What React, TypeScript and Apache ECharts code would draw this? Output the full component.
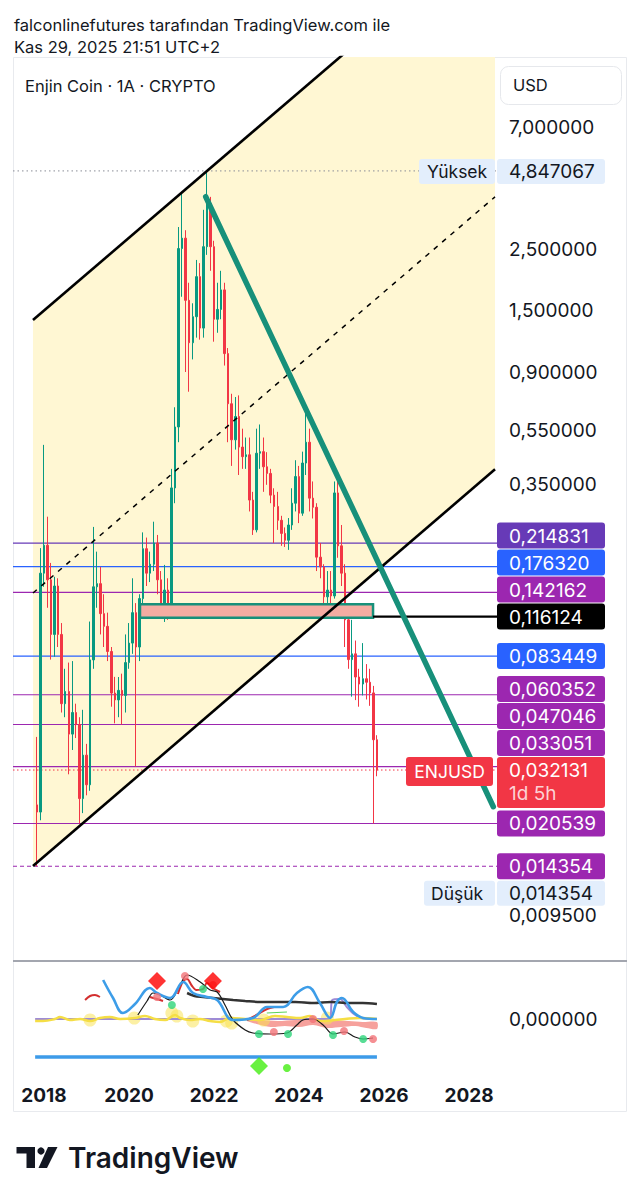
import React, { useEffect, useRef } from "react";
import * as echarts from "echarts";

// ---------------- data ----------------
// month index counted from Jan 2016 (24 = Jan 2018)
const FIRST_MONTH = 22; // Nov 2017
// monthly candles [open, close, low, high]
const CANDLES: number[][] = [
  [0.024, 0.0226, 0.014354, 0.0424],
  [0.0226, 0.167, 0.0211, 0.206],
  // 2018
  [0.167, 0.211, 0.149, 0.489],
  [0.211, 0.158, 0.125, 0.268],
  [0.158, 0.1, 0.081, 0.182],
  [0.1, 0.15, 0.083, 0.162],
  [0.15, 0.1, 0.09, 0.16],
  [0.1, 0.056, 0.052, 0.11],
  [0.056, 0.062, 0.05, 0.075],
  [0.062, 0.0434, 0.031, 0.079],
  [0.0434, 0.052, 0.038, 0.08],
  [0.052, 0.047, 0.042, 0.056],
  [0.047, 0.0253, 0.020539, 0.05],
  [0.0253, 0.0364, 0.0224, 0.0532],
  // 2019
  [0.0364, 0.0284, 0.026, 0.04],
  [0.0284, 0.0808, 0.027, 0.1114],
  [0.0808, 0.149, 0.075, 0.246],
  [0.149, 0.153, 0.125, 0.2],
  [0.153, 0.119, 0.1, 0.176],
  [0.119, 0.107, 0.09, 0.14],
  [0.107, 0.0867, 0.08, 0.12],
  [0.0867, 0.0612, 0.0546, 0.09],
  [0.0612, 0.0578, 0.0475, 0.0701],
  [0.0578, 0.0626, 0.05, 0.07],
  [0.0626, 0.06, 0.047, 0.072],
  [0.06, 0.079, 0.052, 0.1],
  // 2020
  [0.079, 0.093, 0.075, 0.11],
  [0.093, 0.12, 0.085, 0.16],
  [0.12, 0.09, 0.0331, 0.13],
  [0.09, 0.135, 0.08, 0.14],
  [0.135, 0.205, 0.13, 0.235],
  [0.205, 0.167, 0.15, 0.225],
  [0.167, 0.18, 0.155, 0.2],
  [0.18, 0.215, 0.17, 0.257],
  [0.215, 0.158, 0.14, 0.23],
  [0.158, 0.128, 0.12, 0.17],
  [0.128, 0.145, 0.111, 0.179],
  [0.145, 0.126, 0.113, 0.16],
  // 2021
  [0.126, 0.341, 0.115, 0.4],
  [0.341, 0.568, 0.3, 0.67],
  [0.568, 2.53, 0.5, 3.03],
  [2.53, 2.76, 1.69, 4.02],
  [2.76, 1.64, 0.9, 2.95],
  [1.64, 1.15, 0.763, 1.9],
  [1.15, 1.43, 1.0, 1.6],
  [1.43, 2.0, 1.2, 2.3],
  [2.0, 1.3, 1.18, 2.24],
  [1.3, 2.57, 1.2, 3.5],
  [2.57, 3.69, 2.4, 4.847067],
  [3.69, 2.57, 2.1, 3.9],
  // 2022
  [2.57, 1.4, 1.16, 2.7],
  [1.4, 1.52, 1.25, 1.9],
  [1.52, 1.79, 1.4, 2.1],
  [1.79, 1.05, 0.95, 1.9],
  [1.05, 0.69, 0.5, 1.1],
  [0.69, 0.51, 0.41, 0.75],
  [0.51, 0.62, 0.47, 0.73],
  [0.62, 0.48, 0.38, 0.74],
  [0.48, 0.443, 0.4, 0.56],
  [0.443, 0.45, 0.4, 0.52],
  [0.45, 0.308, 0.28, 0.52],
  [0.308, 0.24, 0.23, 0.33],
  // 2023
  [0.24, 0.456, 0.235, 0.56],
  [0.456, 0.462, 0.4, 0.58],
  [0.462, 0.407, 0.33, 0.52],
  [0.407, 0.385, 0.35, 0.46],
  [0.385, 0.321, 0.3, 0.4],
  [0.321, 0.292, 0.215, 0.34],
  [0.292, 0.26, 0.24, 0.33],
  [0.26, 0.233, 0.21, 0.27],
  [0.233, 0.22, 0.208, 0.245],
  [0.22, 0.25, 0.203, 0.265],
  [0.25, 0.3, 0.24, 0.34],
  [0.3, 0.375, 0.28, 0.43],
  // 2024
  [0.375, 0.276, 0.254, 0.41],
  [0.276, 0.42, 0.27, 0.462],
  [0.42, 0.5, 0.38, 0.655],
  [0.5, 0.313, 0.28, 0.56],
  [0.313, 0.29, 0.264, 0.36],
  [0.29, 0.191, 0.17, 0.3],
  [0.191, 0.176, 0.16, 0.215],
  [0.176, 0.137, 0.12, 0.18],
  [0.137, 0.145, 0.125, 0.17],
  [0.145, 0.138, 0.125, 0.17],
  [0.138, 0.327, 0.135, 0.36],
  [0.327, 0.21, 0.19, 0.385],
  // 2025
  [0.21, 0.167, 0.15, 0.25],
  [0.167, 0.113, 0.09, 0.18],
  [0.113, 0.081, 0.075, 0.125],
  [0.081, 0.085, 0.0594, 0.113],
  [0.085, 0.07, 0.0577, 0.095],
  [0.07, 0.066, 0.0546, 0.075],
  [0.066, 0.069, 0.06, 0.093],
  [0.069, 0.067, 0.058, 0.078],
  [0.067, 0.0613, 0.055, 0.075],
  [0.0613, 0.0414, 0.020539, 0.065],
  [0.0414, 0.032131, 0.0305, 0.043],
];

const YEAR_TICKS = [24, 48, 72, 96, 120, 144];
const PRICE_TICKS = [7, 2.5, 1.5, 0.9, 0.55, 0.35, 0.0095];

const LEVEL_PRICES = [0.214831, 0.17632, 0.142162, 0.083449, 0.060352, 0.047046, 0.033051, 0.020539, 0.014354];
const LEVEL_COLORS = ["#673AB7", "#2962FF", "#9C27B0", "#2962FF", "#9C27B0", "#9C27B0", "#9C27B0", "#9C27B0", "#9C27B0"];
const SUPPORT_PRICE = 0.116124;
const LAST_PRICE = 0.032131;
const ATH = 4.847067;
const ATL = 0.014354;

// parallel channel anchors: [month start, month end], prices at those months
const CHANNEL_X = [20.89, 151.34];
const CHANNEL_UPPER = [1.391, 38.2];
const CHANNEL_LOWER = [0.01438, 0.3985];

// descending trend line [month, price]
const TREND = [[69.66, 3.905], [150.86, 0.02363]];

// demand zone
const ZONE_X = [51.1, 116.9];
const ZONE_PRICE = [0.1287, 0.115];

// indicator pane (arbitrary oscillator units, 0 = baseline)
const IND_BLUE = [[40.7, 39], [43.5, 21], [46.3, 6], [49.7, 15], [53.9, 31], [55.9, 26], [59.6, 21], [63.3, 37], [66.1, 26], [70.0, 22], [72.9, 19], [77.4, -1], [83.0, 1], [87.0, 12], [91.5, 12], [95.4, 26], [98.5, 32], [101.9, 16], [104.8, 1], [106.7, 17], [108.1, 21], [111.3, 7], [114.1, 1], [118.0, 0]];
const IND_BLACK = [[64.4, 26], [66.5, 23], [68.9, 22], [71.7, 21], [74.5, 20], [77.4, 19], [80.8, 18], [85, 17], [90, 17], [95, 17], [100, 16], [105, 17], [110, 16], [114, 16], [118, 15]];
const IND_RED_SEGMENTS = [
  [[35.6, 19], [37, 23], [38.4, 24], [39.8, 22]],
  [[53.9, 22], [55.9, 20], [57.6, 18]],
  [[61.8, 25], [63.3, 38], [64.4, 40], [65.8, 33], [67, 29], [68.9, 30], [70.0, 36], [71.7, 31], [73.7, 27]],
  [[81.3, -1], [84, 4], [87, 10], [89, 12]],
];
const IND_THIN = [[50.5, 4], [53.1, 18], [54.8, 26], [56.8, 24], [59.6, 19], [62.4, 34], [64.4, 44], [68.1, 37], [70.9, 29], [72.9, 27], [75.1, 14], [77.4, -1], [80.8, -11], [83.0, -14], [87.8, -15], [92.6, -14], [95.4, -6], [97.1, -1], [100, 0], [102.8, -6], [105.6, -15], [109, -13], [111.8, -18], [114.1, -20], [116.9, -19]];
const IND_YELLOW = [[21.5, -2], [23.7, -2], [27.1, 0], [28.5, 2], [31.3, -1], [34.2, 0], [37, -2], [39.8, 1], [42.6, 2], [45.5, 0], [49.7, 1], [52.5, 3], [55.3, 0], [58.2, -1], [61, 4], [62.4, 1], [65.2, -1], [68, 0], [70.9, -2], [73.7, -3], [76.5, 1], [80.8, 0], [85, -1], [89.2, 3], [92.6, 2], [96.3, 1], [99.1, 3], [101.9, -2], [106.2, -1], [109, 0], [113.2, 1], [118, 0]];
const IND_YELLOW_BLOBS = [[60.1, 6], [61.5, 3], [49.5, 1], [37, -1], [66, -2], [75.5, -2], [77, -4], [86, -1], [104, 1]];
const IND_PURPLE = [[21.5, 0], [104.6, 0], [105.4, 19], [107.6, 20], [109.5, 12], [111.5, 5], [113.5, 1], [118, 0]];
const IND_AREA_TOP = [[81.3, -1], [85, -1], [90, -2], [95, -1], [100, 0], [105, -1], [110, -2], [114, -3], [118, -3]];
const IND_AREA_BOTTOM = [[81.3, -2], [84, -5], [88, -8], [92, -7], [96, -8], [100, -6], [104, -9], [108, -8], [112, -7], [115, -9], [118, -10]];
const IND_GREEN_LINE = [[86.9, 6], [92.6, 7]];
const IND_RED_DOTS = [[55.9, 22], [63.8, 43], [71.7, 34], [88.9, -13], [99.95, 0], [108.7, -12], [116.9, -20]];
const IND_GREEN_DOTS = [[60.1, 14], [68.9, 30], [84.7, -15], [92.9, -15], [105.6, -16], [114.1, -20]];
const IND_RED_DIAMONDS = [[55.9, 38], [71.7, 38]];
const IND_GREEN_DIAMONDS = [[84.7, -47]];
const IND_GREEN_SMALL = [[92.6, -49]];
const IND_BASELINE = [[21.5, -38], [118, -38]];

// ---------------- layout / style ----------------
const X_MIN = 15.25;
const X_MAX = 151.9;
const Y_MIN = 0.006494;
const Y_MAX = 12.58;
const UP = "#089981";
const DOWN = "#F23645";
const TEAL = "#17907A";
const FONT = "Inter, 'Noto Sans', sans-serif";
const TXT = "#131722";

const fmt = (v: number) => v.toFixed(6).replace(".", ",");

function buildOption(): any {
  const lg = Math.log10;
  const hLine = (p: number, color: string, width: number, type: any, x0 = X_MIN, z = 2) => ({
    type: "line", xAxisIndex: 0, yAxisIndex: 0, data: [[x0, p], [X_MAX, p]], symbol: "none", silent: true, z,
    lineStyle: { color, width, type },
  });
  const indLine = (data: number[][], color: string, width: number, smooth = 0.35, z = 3) => ({
    type: "line", xAxisIndex: 1, yAxisIndex: 1, data, symbol: "none", silent: true, smooth, z,
    lineStyle: { color, width },
  });
  const indDots = (data: number[][], color: string, size: number, symbol = "circle", z = 6) => ({
    type: "scatter", xAxisIndex: 1, yAxisIndex: 1, data, symbol, symbolSize: size, silent: true, z,
    itemStyle: { color },
  });

  const series: any[] = [
    {
      type: "custom", xAxisIndex: 0, yAxisIndex: 0, clip: true, silent: true, z: 1,
      data: [[CHANNEL_X[0], CHANNEL_LOWER[0]]],
      renderItem: (_p: any, api: any) => {
        const t = (lg(Y_MAX) - lg(CHANNEL_UPPER[0])) / (lg(CHANNEL_UPPER[1]) - lg(CHANNEL_UPPER[0]));
        const mTop = CHANNEL_X[0] + Math.min(1, t) * (CHANNEL_X[1] - CHANNEL_X[0]);
        const pts = [
          [CHANNEL_X[0], CHANNEL_UPPER[0]],
          [mTop, Y_MAX],
          [CHANNEL_X[1], Y_MAX],
          [CHANNEL_X[1], CHANNEL_LOWER[1]],
          [CHANNEL_X[0], CHANNEL_LOWER[0]],
        ].map((p) => api.coord(p));
        return { type: "polygon", shape: { points: pts }, style: { fill: "#FFF7D3" } };
      },
    },
    ...LEVEL_PRICES.map((p, i) => hLine(p, LEVEL_COLORS[i], 1.2, p === ATL ? [4, 3] : "solid")),
    hLine(ATH, "#8A8D96", 1, [1.5, 3]),
    hLine(LAST_PRICE, DOWN, 1, [1.5, 2.5]),
    {
      type: "candlestick", xAxisIndex: 0, yAxisIndex: 0, silent: true, z: 3,
      data: CANDLES.map((c, i) => [FIRST_MONTH + i, c[0], c[1], c[2], c[3]]),
      encode: { x: 0, y: [1, 2, 3, 4] },
      barWidth: 2,
      itemStyle: { color: UP, color0: DOWN, borderColor: UP, borderColor0: DOWN, borderWidth: 1 },
    },
    {
      type: "custom", xAxisIndex: 0, yAxisIndex: 0, clip: true, silent: true, z: 4,
      data: [[ZONE_X[0], ZONE_PRICE[0]]],
      renderItem: (_p: any, api: any) => {
        const a = api.coord([ZONE_X[0], ZONE_PRICE[0]]);
        const b = api.coord([ZONE_X[1], ZONE_PRICE[1]]);
        return {
          type: "rect",
          shape: { x: a[0], y: a[1], width: b[0] - a[0], height: b[1] - a[1] },
          style: { fill: "#F5ACA2", stroke: TEAL, lineWidth: 2.5 },
        };
      },
    },
    hLine(SUPPORT_PRICE, "#000000", 2.2, "solid", ZONE_X[1], 4),
    {
      type: "line", xAxisIndex: 0, yAxisIndex: 0, symbol: "none", silent: true, z: 5,
      data: [[CHANNEL_X[0], CHANNEL_UPPER[0]], [CHANNEL_X[1], CHANNEL_UPPER[1]]],
      lineStyle: { color: "#000", width: 2.6 },
    },
    {
      type: "line", xAxisIndex: 0, yAxisIndex: 0, symbol: "none", silent: true, z: 5,
      data: [[CHANNEL_X[0], CHANNEL_LOWER[0]], [CHANNEL_X[1], CHANNEL_LOWER[1]]],
      lineStyle: { color: "#000", width: 2.6 },
    },
    {
      type: "line", xAxisIndex: 0, yAxisIndex: 0, symbol: "none", silent: true, z: 5,
      data: [0, 1].map((i) => [CHANNEL_X[i], Math.sqrt(CHANNEL_UPPER[i] * CHANNEL_LOWER[i])]),
      lineStyle: { color: "#000", width: 1.5, type: [5, 6] },
    },
    {
      type: "line", xAxisIndex: 0, yAxisIndex: 0, symbol: "none", silent: true, z: 6,
      data: TREND, lineStyle: { color: TEAL, width: 5.5, cap: "round" },
    },
    // indicator pane
    {
      type: "custom", xAxisIndex: 1, yAxisIndex: 1, clip: true, silent: true, z: 2,
      data: [IND_AREA_TOP[0]],
      renderItem: (_p: any, api: any) => {
        const pts = IND_AREA_TOP.concat(IND_AREA_BOTTOM.slice().reverse()).map((p) => api.coord(p));
        return { type: "polygon", shape: { points: pts, smooth: 0.3 }, style: { fill: "#F6A19C" } };
      },
    },
    indLine(IND_BASELINE, "#3D9BE9", 3.5, 0),
    indDots(IND_YELLOW_BLOBS, "rgba(250,226,80,0.65)", 13, "circle", 2),
    indLine(IND_PURPLE, "#9E8BD6", 2, 0.3, 3),
    indLine(IND_YELLOW, "#F5DE45", 2.5, 0.4, 3),
    indLine(IND_GREEN_LINE, "#5BD35B", 1.2, 0, 3),
    indLine(IND_BLACK, "#333333", 2.5, 0.3, 4),
    ...IND_RED_SEGMENTS.map((seg) => indLine(seg, "#D32F2F", 2, 0.3, 4)),
    indLine(IND_THIN, "#1A1A1A", 1.2, 0.35, 4),
    indLine(IND_BLUE, "#3D9DE8", 2.6, 0.4, 5),
    indDots(IND_RED_DOTS, "#F27378", 8),
    indDots(IND_GREEN_DOTS, "#2ED47A", 8),
    indDots(IND_RED_DIAMONDS, "#FF0000", 18, "diamond", 7),
    indDots(IND_GREEN_DIAMONDS, "#44EE11", 18, "diamond", 7),
    indDots(IND_GREEN_SMALL, "#44EE11", 8),
  ];

  return {
    animation: false,
    backgroundColor: "#ffffff",
    grid: [
      { left: 13, top: 57, width: 484, height: 904, outerBoundsMode: "none" },
      { left: 13, top: 962, width: 484, height: 118, outerBoundsMode: "none" },
    ],
    xAxis: [
      { type: "value", gridIndex: 0, min: X_MIN, max: X_MAX, show: false },
      {
        type: "value", gridIndex: 1, min: X_MIN, max: X_MAX,
        axisLine: { show: false }, axisTick: { show: false }, splitLine: { show: false },
        axisLabel: {
          customValues: YEAR_TICKS,
          formatter: (v: number) => String(2016 + Math.round(v / 12)),
          fontSize: 19, fontWeight: "bold", color: TXT, fontFamily: FONT, margin: 6,
        },
      },
    ],
    yAxis: [
      { type: "log", logBase: 10, gridIndex: 0, min: Y_MIN, max: Y_MAX, show: false },
      { type: "value", gridIndex: 1, min: -61, max: 57, show: false },
    ],
    series,
  };
}

function buildGraphics(chart: any): any[] {
  const yOf = (p: number) => (chart.convertToPixel({ gridIndex: 0 }, [X_MIN, p]) as number[])[1];
  const els: any[] = [];
  const rect = (x: number, y: number, w: number, h: number, fill: string, z = 20, r = 3, stroke?: string) =>
    els.push({
      type: "rect", silent: true, z, shape: { x, y, width: w, height: h, r },
      style: { fill, stroke: stroke || null, lineWidth: stroke ? 1 : 0 },
    });
  const text = (x: number, y: number, t: string, fill: string, size = 18, z = 21, align = "left", weight = "normal") =>
    els.push({
      type: "text", silent: true, z, x, y,
      style: {
        text: t, fill, font: `${weight} ${size}px ${FONT}`,
        textAlign: align, textVerticalAlign: "middle", align, verticalAlign: "middle",
      },
    });
  const NUM = 19;

  // frame + divider
  rect(13.5, 57.5, 613, 1054, "none", 0, 0, "#E8EAEE");
  els.push({ type: "line", silent: true, z: 15, shape: { x1: 13, y1: 961, x2: 627, y2: 961 }, style: { stroke: "#A3A6AF", lineWidth: 2 } });

  // header
  text(14, 25, "falconlinefutures tarafından TradingView.com ile", TXT, 16.5);
  text(14, 47, "Kas 29, 2025 21:51 UTC+2", TXT, 16.5);
  text(25, 86, "Enjin Coin · 1A · CRYPTO", TXT, 16.5, 21);
  rect(500.5, 66.5, 121, 38, "#ffffff", 20, 8, "#E6E8EC");
  text(513, 85, "USD", TXT, 16.5);

  // price scale tick labels
  PRICE_TICKS.forEach((p) => text(509, yOf(p), fmt(p), TXT, NUM, 16));

  // stacked level labels
  const labels: any[] = LEVEL_PRICES.map((p, i) => ({ price: p, bg: LEVEL_COLORS[i], down: 13 }));
  labels.push({ price: SUPPORT_PRICE, bg: "#000000", down: 13 });
  labels.push({ price: LAST_PRICE, bg: DOWN, down: 38, last: true });
  labels.forEach((l) => (l.ideal = yOf(l.price)));
  labels.sort((a, b) => b.ideal - a.ideal);
  let limit = Infinity;
  for (const l of labels) {
    l.y = Math.min(l.ideal, limit - l.down - 1);
    limit = l.y - 13;
  }
  let lowY = 0;
  for (const l of labels) {
    rect(497, l.y - 13, 108, 13 + l.down, l.bg, 22);
    text(509, l.y + 0.5, fmt(l.price), "#ffffff", NUM, 23);
    if (l.last) {
      text(509, l.y + 23, "1d 5h", "rgba(255,255,255,0.78)", NUM, 23);
      rect(406, l.y - 13, 87, 29, DOWN, 22);
      text(449.5, l.y + 1.5, "ENJUSD", "#ffffff", 17.5, 23, "center");
    }
    if (l.price === ATL) lowY = l.y;
  }

  // high / low
  const hy = yOf(ATH);
  rect(419, hy - 12, 76, 25, "#E3EEFC", 22);
  text(427, hy + 0.5, "Yüksek", TXT, 17.5, 23);
  rect(497, hy - 12, 108, 25, "#E3EEFC", 22);
  text(509, hy + 0.5, fmt(ATH), TXT, NUM, 23);
  const ly = lowY + 27;
  rect(424, ly - 12.5, 71, 25, "#E3EEFC", 22);
  text(431, ly, "Düşük", TXT, 17.5, 23);
  rect(497, ly - 12.5, 108, 25, "#E3EEFC", 22);
  text(509, ly, fmt(ATL), TXT, NUM, 23);

  // indicator scale label
  const iy = (chart.convertToPixel({ gridIndex: 1 }, [X_MIN, 0]) as number[])[1];
  text(509, iy, fmt(0), TXT, NUM, 16);

  // TradingView logo
  rect(16.5, 1147, 18.5, 6.5, "#131722", 20, 0);
  rect(26.5, 1147, 8.5, 21, "#131722", 20, 0);
  els.push({ type: "circle", silent: true, z: 20, shape: { cx: 41, cy: 1151, r: 3.6 }, style: { fill: "#131722" } });
  els.push({
    type: "polygon", silent: true, z: 20,
    shape: { points: [[48, 1147], [57.5, 1147], [47, 1168], [38.5, 1168]] },
    style: { fill: "#131722" },
  });
  text(68, 1158, "TradingView", "#131722", 28, 20, "left", "600");
  return els;
}

export default function App() {
  const ref = useRef<HTMLDivElement>(null);
  useEffect(() => {
    const chart = echarts.init(ref.current as HTMLDivElement, null, { renderer: "svg" });
    chart.setOption(buildOption());
    chart.setOption({ graphic: { elements: buildGraphics(chart) } });
    return () => chart.dispose();
  }, []);
  return (
    <div
      ref={ref}
      style={{ position: "absolute", left: 0, top: 0, width: 639, height: 1200, background: "#ffffff" }}
    />
  );
}
